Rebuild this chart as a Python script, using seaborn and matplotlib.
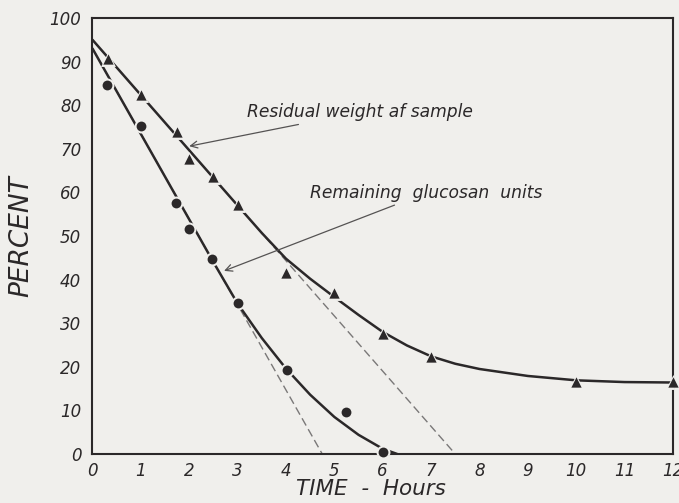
import numpy as np
import pandas as pd
import matplotlib
matplotlib.use("Agg")
import matplotlib.pyplot as plt
import seaborn as sns

# Measured points
weight_hours = [0.33, 1.0, 1.75, 2.0, 2.5, 3.0, 4.0, 5.0, 6.0, 7.0, 10.0, 12.0]
weight_pct = [90.5, 82.3, 73.9, 67.7, 63.5, 57.0, 41.5, 36.9, 27.6, 22.3, 16.6, 16.5]

glucosan_hours = [0.3, 1.0, 1.72, 2.0, 2.47, 3.0, 4.02, 5.24, 6.0]
glucosan_pct = [84.7, 75.2, 57.5, 51.5, 44.8, 34.6, 19.3, 9.6, 0.4]

# Smoothed curves drawn through the points
weight_curve_x = [0.0, 3.0, 3.5, 4.0, 4.5, 5.0, 5.5, 6.0, 6.5, 7.0, 7.5, 8.0, 9.0, 10.0, 11.0, 12.0]
weight_curve_y = [95.0, 57.0, 50.7, 44.8, 40.2, 36.0, 31.9, 28.0, 24.9, 22.4, 20.7, 19.5, 17.9, 16.9, 16.5, 16.4]

glucosan_curve_x = [0.0, 2.5, 3.0, 3.5, 4.0, 4.5, 5.0, 5.5, 6.0, 6.3]
glucosan_curve_y = [93.0, 44.0, 34.5, 26.6, 19.6, 13.6, 8.5, 4.4, 1.2, 0.0]

# Initial-rate tangent lines (start value and x-intercept)
weight_tangent_x = [0.0, 7.5]
weight_tangent_y = [95.0, 0.0]
glucosan_tangent_x = [0.0, 4.75]
glucosan_tangent_y = [93.0, 0.0]

x_ticks = list(range(0, 13))
y_ticks = list(range(0, 101, 10))

BG = "#f0efec"
INK = "#2b2829"

sns.set_theme(style="white")
plt.rcParams["font.family"] = ["DejaVu Sans"]

fig = plt.figure(figsize=(6.79, 5.03), dpi=100, facecolor=BG)
ax = fig.add_axes([0.1362, 0.0974, 0.8549, 0.8668])
ax.set_facecolor(BG)

# tangent lines
for tx, ty in [(weight_tangent_x, weight_tangent_y), (glucosan_tangent_x, glucosan_tangent_y)]:
    sns.lineplot(x=tx, y=ty, ax=ax, color="#7a7878", lw=1.0,
                 linestyle=(0, (6, 3)), estimator=None, sort=False)

# fitted curves
for cx, cy in [(weight_curve_x, weight_curve_y), (glucosan_curve_x, glucosan_curve_y)]:
    sns.lineplot(x=cx, y=cy, ax=ax, color=INK, lw=1.8,
                 estimator=None, sort=False)

# background halos so the curves break around each symbol
sns.scatterplot(x=weight_hours, y=weight_pct, ax=ax, marker="^", s=115,
                color=BG, edgecolor=BG, linewidth=0, zorder=4)
sns.scatterplot(x=glucosan_hours, y=glucosan_pct, ax=ax, marker="o", s=100,
                color=BG, edgecolor=BG, linewidth=0, zorder=4)
sns.scatterplot(x=weight_hours, y=weight_pct, ax=ax, marker="^", s=55,
                color=INK, edgecolor=INK, linewidth=0, zorder=5, clip_on=False)
sns.scatterplot(x=glucosan_hours, y=glucosan_pct, ax=ax, marker="o", s=50,
                color=INK, edgecolor=INK, linewidth=0, zorder=5, clip_on=False)

ax.set_xlim(0, 12)
ax.set_ylim(0, 100)
ax.set_xticks(x_ticks)
ax.set_yticks(y_ticks)

for lab in ax.get_xticklabels() + ax.get_yticklabels():
    lab.set_fontstyle("italic")
    lab.set_fontsize(12)
    lab.set_color(INK)

ax.tick_params(axis="both", direction="in", length=7, width=1.1, color=INK)
ax.tick_params(axis="x", pad=6)
ax.tick_params(axis="y", pad=8)

for side in ["left", "right", "top", "bottom"]:
    ax.spines[side].set_visible(True)
    ax.spines[side].set_color(INK)
    ax.spines[side].set_linewidth(1.5)

ax.set_xlabel("TIME  -  Hours", fontsize=15.5, fontstyle="italic", color=INK,
              va="center")
ax.xaxis.set_label_coords(0.48, -0.08)
ax.set_ylabel("PERCENT", fontsize=19, fontstyle="italic", color=INK)
ax.yaxis.set_label_coords(-0.1, 0.5)

arrow = dict(arrowstyle="->", color="#555353", lw=0.9, shrinkA=0, shrinkB=0)
ax.annotate("Residual weight af sample", xy=(2.0, 70.6), xytext=(3.2, 78.4),
            fontsize=12.3, fontstyle="italic", color=INK, va="center", ha="left",
            arrowprops=arrow)
ax.annotate("Remaining  glucosan  units", xy=(2.72, 42.0), xytext=(4.5, 59.9),
            fontsize=12.3, fontstyle="italic", color=INK, va="center", ha="left",
            arrowprops=arrow)

fig.savefig("out.png", dpi=100, facecolor=BG)
